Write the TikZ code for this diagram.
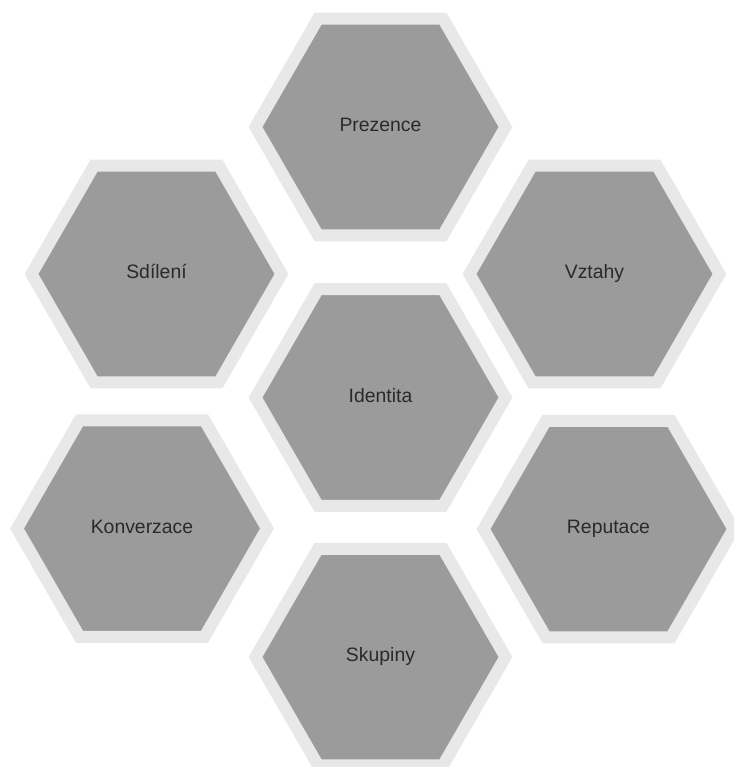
\documentclass[tikz,border=0pt]{standalone}
\usepackage{fontspec}
\setmainfont{Liberation Sans}
\usepackage{xcolor}
\usepackage{tikz}
\usetikzlibrary{positioning,shapes.geometric}

\definecolor{hexfill}{HTML}{9B9B9B}
\definecolor{hexrim}{HTML}{E8E8E8}
\definecolor{hextext}{HTML}{2A2A2A}

\begin{document}
\begin{tikzpicture}[
    x=1pt, y=-1pt,
    on grid,
    every node/.style={font=\fontsize{19.4}{23}\selectfont},
    hex/.style={regular polygon, regular polygon sides=6, draw=hexrim, line width=12pt, fill=hexfill, text=hextext, minimum size=250pt, inner sep=0pt, text height=0.95em, text depth=0pt},
]
    \useasboundingbox (0,0) rectangle (733,767);

    % centre
    \node[hex] (identita) at (380.5,397.5) {Identita};

    % top / bottom
    \node[hex, above=270.5pt of identita] (prezence) {Prezence};
    \node[hex, below=259.5pt of identita] (skupiny) {Skupiny};

    % left column
    \node[hex, above left=123.5pt and 224pt of identita] (sdileni) {Sdílení};
    \node[hex, below left=131pt and 238.5pt of identita] (konverzace) {Konverzace};

    % right column
    \node[hex, above right=123.5pt and 214pt of identita] (vztahy) {Vztahy};
    \node[hex, below right=131.5pt and 228pt of identita] (reputace) {Reputace};
\end{tikzpicture}
\end{document}
